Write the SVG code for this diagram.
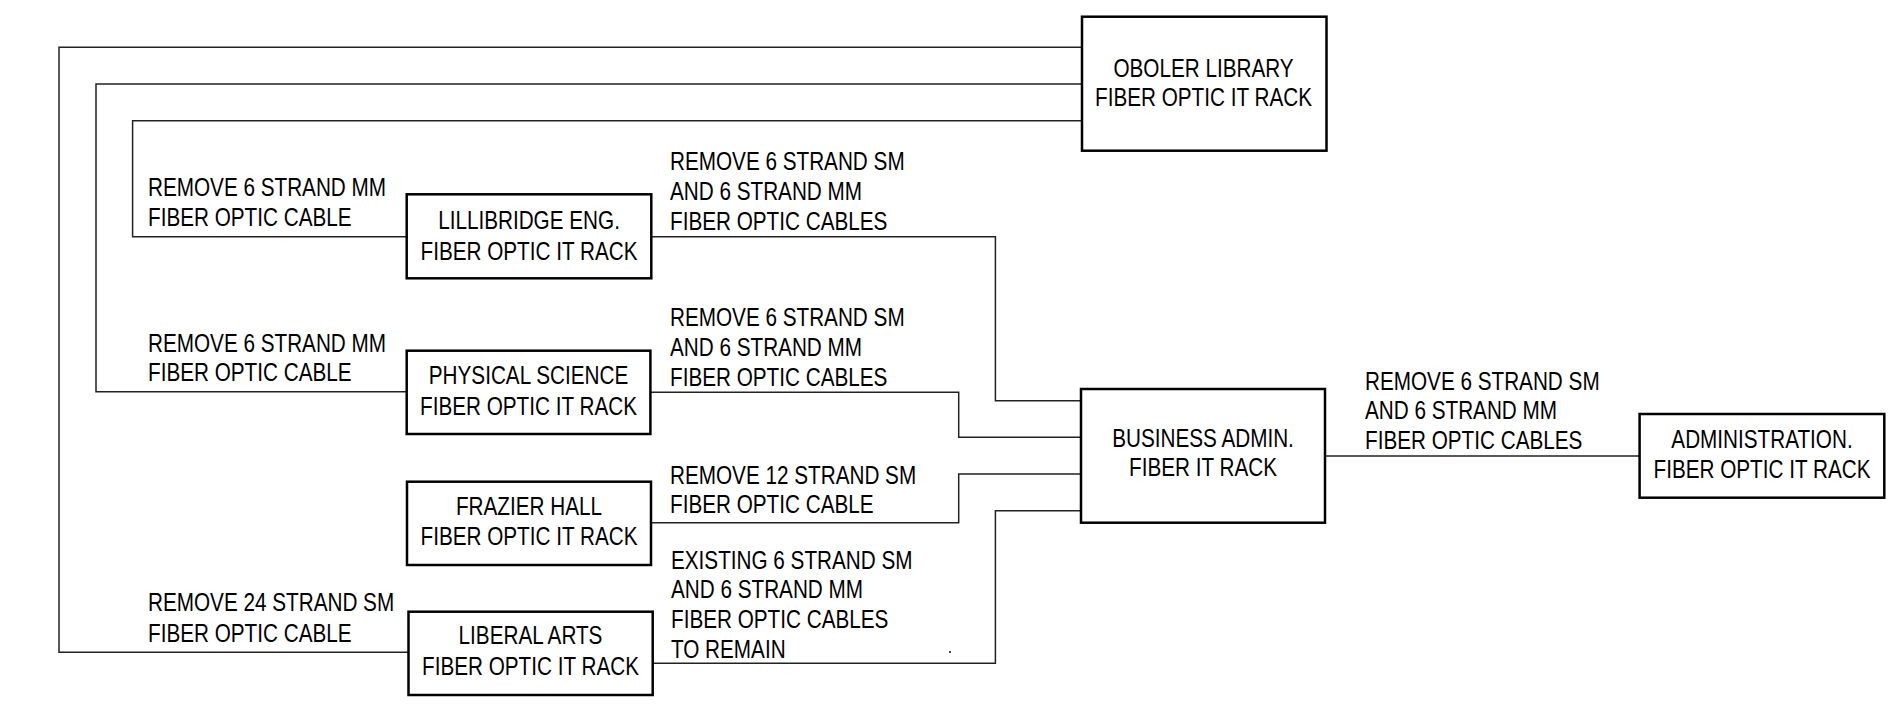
<svg xmlns="http://www.w3.org/2000/svg" width="1893" height="719" viewBox="0 0 1893 719">
<style>
.box{fill:#fff;stroke:#000;stroke-width:2.5}
.wire{fill:none;stroke:#222;stroke-width:1.5}
text{font-family:"Liberation Sans",Arial,sans-serif;font-size:25.5px;fill:#000}
.c{text-anchor:middle}
</style>
<rect width="1893" height="719" fill="#fff"/>
<g id="connectors">
<path class="wire" d="M1082,47.3 H59 V652.3 H408.5"/>
<path class="wire" d="M1082,84 H96 V391.7 H406.7"/>
<path class="wire" d="M1082,120.7 H132.6 V236.7 H406.7"/>
<path class="wire" d="M651.3,236.7 H995.4 V400.7 H1081"/>
<path class="wire" d="M650.4,392.3 H958.7 V437.3 H1081"/>
<path class="wire" d="M651,522.7 H958.7 V474 H1081"/>
<path class="wire" d="M652.7,663.3 H995.4 V510.7 H1081"/>
<path class="wire" d="M1325,456 H1639.6"/>
<rect x="949" y="651" width="2" height="2" fill="#444"/>
</g>
<g id="labels">
<text transform="translate(148,195.8) scale(0.812,1)">REMOVE 6 STRAND MM<tspan x="0" dy="30">FIBER OPTIC CABLE</tspan></text>
<text transform="translate(670,169.5) scale(0.812,1)">REMOVE 6 STRAND SM<tspan x="0" dy="30.5">AND 6 STRAND MM</tspan><tspan x="0" dy="30">FIBER OPTIC CABLES</tspan></text>
<text transform="translate(148,352) scale(0.812,1)">REMOVE 6 STRAND MM<tspan x="0" dy="29.5">FIBER OPTIC CABLE</tspan></text>
<text transform="translate(670,325.8) scale(0.812,1)">REMOVE 6 STRAND SM<tspan x="0" dy="30">AND 6 STRAND MM</tspan><tspan x="0" dy="30">FIBER OPTIC CABLES</tspan></text>
<text transform="translate(670,483.5) scale(0.812,1)">REMOVE 12 STRAND SM<tspan x="0" dy="30">FIBER OPTIC CABLE</tspan></text>
<text transform="translate(671,568.5) scale(0.812,1)">EXISTING 6 STRAND SM<tspan x="0" dy="30">AND 6 STRAND MM</tspan><tspan x="0" dy="30">FIBER OPTIC CABLES</tspan><tspan x="0" dy="30">TO REMAIN</tspan></text>
<text transform="translate(148,611.3) scale(0.812,1)">REMOVE 24 STRAND SM<tspan x="0" dy="30.5">FIBER OPTIC CABLE</tspan></text>
<text transform="translate(1365,389.5) scale(0.812,1)">REMOVE 6 STRAND SM<tspan x="0" dy="30">AND 6 STRAND MM</tspan><tspan x="0" dy="30">FIBER OPTIC CABLES</tspan></text>
</g>
<g id="oboler">
<rect class="box" x="1082" y="16.7" width="244.5" height="134"/>
<text class="c" transform="translate(1203.5,76.5) scale(0.812,1)">OBOLER LIBRARY<tspan x="0" dy="30">FIBER OPTIC IT RACK</tspan></text>
</g>
<g id="lillibridge">
<rect class="box" x="406.7" y="194.3" width="244.6" height="84"/>
<text class="c" transform="translate(529,228.5) scale(0.812,1)">LILLIBRIDGE ENG.<tspan x="0" dy="31.5">FIBER OPTIC IT RACK</tspan></text>
</g>
<g id="physical-science">
<rect class="box" x="406.7" y="350.7" width="243.7" height="83.3"/>
<text class="c" transform="translate(528.5,384) scale(0.812,1)">PHYSICAL SCIENCE<tspan x="0" dy="31">FIBER OPTIC IT RACK</tspan></text>
</g>
<g id="frazier">
<rect class="box" x="407" y="481.7" width="244" height="83.3"/>
<text class="c" transform="translate(529,514.5) scale(0.812,1)">FRAZIER HALL<tspan x="0" dy="31">FIBER OPTIC IT RACK</tspan></text>
</g>
<g id="liberal-arts">
<rect class="box" x="408.5" y="611.7" width="244.2" height="83.3"/>
<text class="c" transform="translate(530.5,644) scale(0.812,1)">LIBERAL ARTS<tspan x="0" dy="31.5">FIBER OPTIC IT RACK</tspan></text>
</g>
<g id="business-admin">
<rect class="box" x="1081" y="389" width="244" height="133.7"/>
<text class="c" transform="translate(1203,446.5) scale(0.812,1)">BUSINESS ADMIN.<tspan x="0" dy="30">FIBER IT RACK</tspan></text>
</g>
<g id="administration">
<rect class="box" x="1639.6" y="414" width="244.7" height="83.7"/>
<text class="c" transform="translate(1762,447.5) scale(0.812,1)">ADMINISTRATION.<tspan x="0" dy="31">FIBER OPTIC IT RACK</tspan></text>
</g>
</svg>
